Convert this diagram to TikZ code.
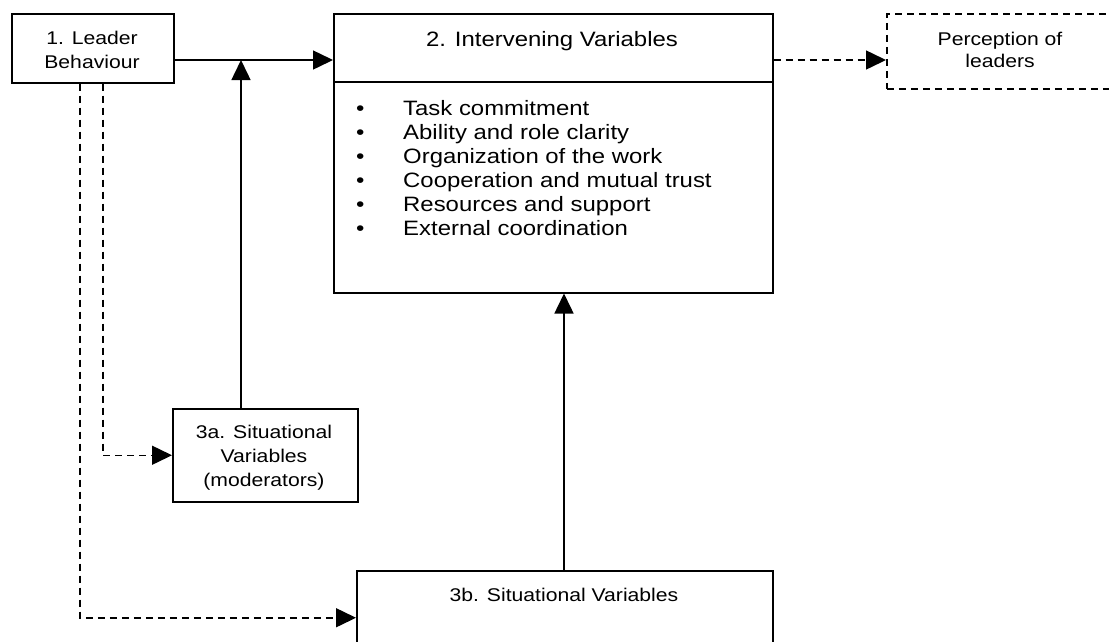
\documentclass[tikz,border=0pt]{standalone}
\usepackage{fontspec}
\setmainfont[FakeStretch=1.15]{Liberation Sans}
\usetikzlibrary{arrows.meta}
\begin{document}
\begin{tikzpicture}[x=1pt,y=-1pt,
  box/.style={draw,line width=1.5pt,inner sep=0pt,anchor=north west},
  dbox/.style={box,dash pattern=on 7pt off 5pt},
  big/.style={font=\fontsize{20.8}{24}\selectfont,anchor=base,inner sep=0pt},
  small/.style={font=\fontsize{18.4}{24}\selectfont,anchor=base,inner sep=0pt},
  arr/.style={line width=1.5pt,-{Triangle[length=20pt,width=19pt]}},
  darr/.style={arr,dash pattern=on 7pt off 5pt}]
\useasboundingbox (0,0) rectangle (1109,641);
\fill[white] (0,0) rectangle (1109,641);
% boxes
\node[box,minimum width=162pt,minimum height=69pt] (lb) at (11,13) {};
\node[box,minimum width=439pt,minimum height=279pt] (iv) at (333,13) {};
\node[dbox,minimum width=240pt,minimum height=75pt] (per) at (886,13) {};
\node[box,minimum width=185pt,minimum height=93pt] (s3a) at (172,408) {};
\node[box,minimum width=416pt,minimum height=94pt] (s3b) at (356,570) {};
% helper coordinates
\coordinate (y60) at (0,60);
\coordinate (j1) at (241,60);
\coordinate (cx) at (564,0);
\coordinate (xa) at (103,0);
\coordinate (xb) at (80,0);
\coordinate (hd) at (0,82);
% header divider
\draw[line width=1.5pt] (iv.west |- hd) -- (iv.east |- hd);
% connectors
\draw[arr] (lb.east |- y60) -- (iv.west |- y60);
\draw[arr] (s3a.north -| j1) -- (j1);
\draw[arr] (s3b.north -| cx) -- (iv.south -| cx);
\draw[darr] (iv.east |- y60) -- (per.west |- y60);
\draw[darr] (lb.south -| xa) |- (s3a.west);
\draw[darr] (lb.south -| xb) |- (s3b.west);
% texts
\node[small] (t1a) at (92,44) {1. Leader};
\node[small] (t1b) at (92,68) {Behaviour};
\node[big] (t2) at (552,46) {2. Intervening Variables};
\foreach \i/\t in {1/Task commitment,2/Ability and role clarity,3/Organization of the work,4/Cooperation and mutual trust,5/Resources and support,6/External coordination}{
  \node[big,anchor=base west] (bu\i) at (356,{115+24*(\i-1)}) {\textbullet};
  \node[big,anchor=base west] (it\i) at (403,{115+24*(\i-1)}) {\t};
}
\node[small] (tpa) at (1000,45) {Perception of};
\node[small] (tpb) at (1000,67) {leaders};
\node[small] (t3a1) at (264,438) {3a. Situational};
\node[small] (t3a2) at (264,462) {Variables};
\node[small] (t3a3) at (264,486) {(moderators)};
\node[small] (t3b) at (564,601) {3b. Situational Variables};
\end{tikzpicture}
\end{document}
